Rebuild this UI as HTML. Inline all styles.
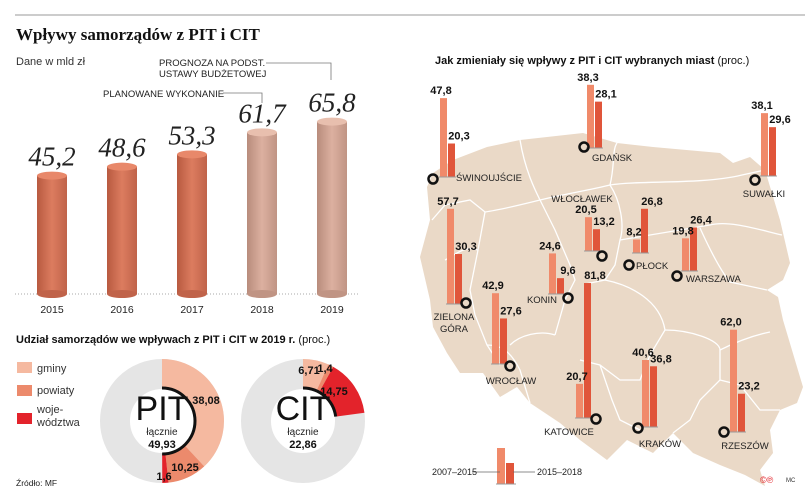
<!DOCTYPE html>
<html><head><meta charset="utf-8"><style>
html,body{margin:0;padding:0;background:#fff;}
svg{display:block;font-family:"Liberation Sans",sans-serif;}
</style></head><body>
<svg id="s" width="805" height="499" viewBox="0 0 805 499">
<defs>
<linearGradient id="gA" x1="0" x2="1" y1="0" y2="0"><stop offset="0" stop-color="#b85a40"/><stop offset="0.5" stop-color="#dc7c5f"/><stop offset="1" stop-color="#c0634a"/></linearGradient>
<linearGradient id="gB" x1="0" x2="1" y1="0" y2="0"><stop offset="0" stop-color="#b88c7c"/><stop offset="0.5" stop-color="#dcb0a0"/><stop offset="1" stop-color="#c09484"/></linearGradient>
</defs>
<line x1="15" y1="15" x2="805" y2="15" stroke="#999" stroke-width="1"/>
<text x="16" y="40" font-family="Liberation Serif,serif" font-weight="bold" font-size="17" fill="#111">Wpływy samorządów z PIT i CIT</text>
<text x="16" y="65" font-size="11" fill="#333">Dane w mld zł</text>
<g>
<text x="159" y="66" font-size="9.5" fill="#222">PROGNOZA NA PODST.</text>
<text x="159" y="77" font-size="9.5" fill="#222">USTAWY BUDŻETOWEJ</text>
<polyline points="266,63 331,63 331,80" fill="none" stroke="#777" stroke-width="0.8"/>
<text x="103" y="97" font-size="9.5" fill="#222">PLANOWANE WYKONANIE</text>
<polyline points="223,93 262,93 262,103" fill="none" stroke="#777" stroke-width="0.8"/>
</g>
<line x1="15" y1="294" x2="360" y2="294" stroke="#aaa" stroke-dasharray="1,2"/>
<g id="cyl"></g>

<text x="16" y="343" font-size="11" font-weight="bold" fill="#111">Udział samorządów we wpływach z PIT i CIT w 2019 r. <tspan font-weight="normal">(proc.)</tspan></text>
<g>
<rect x="17" y="362" width="15" height="11" fill="#f5b9a0"/><text x="37" y="372" font-size="11" fill="#333">gminy</text>
<rect x="17" y="385" width="15" height="11" fill="#ec8a6c"/><text x="37" y="394" font-size="11" fill="#333">powiaty</text>
<rect x="17" y="413" width="15" height="11" fill="#e3232b"/><text x="37" y="413" font-size="11" fill="#333">woje-</text><text x="37" y="426" font-size="11" fill="#333">wództwa</text>
</g>
<g id="donuts"></g>
<text x="16" y="486" font-size="8.5" fill="#222">Źródło: MF</text>

<path fill="#ead9c7" d="M520,140 L583,133 L617,143 L653,147 L720,153 L733,163 L750,157 L765,170 L780,220 L790,263 L783,280 L767,290 L778,297 L783,320 L803,387 L797,403 L780,410 L770,430 L773,453 L760,470 L765,486 L745,475 L720,465 L693,453 L673,433 L653,453 L627,440 L607,460 L580,440 L560,423 L530,403 L517,387 L500,397 L483,373 L460,373 L447,353 L433,327 L430,300 L420,257 L430,220 L427,187 L433,173 L453,160 L487,147 Z"/>
<g fill="none" stroke="#fff" stroke-width="1.3">
<path d="M520,140 C525,170 535,190 540,200 M540,200 C520,205 500,210 485,212 L470,200 L445,205 L432,220"/>
<path d="M540,200 C560,195 590,190 610,185 C615,165 612,150 617,143"/>
<path d="M610,185 C640,180 700,185 742,175 L765,170"/>
<path d="M485,212 L478,250 L470,290 L475,315 L487,345 L500,365"/>
<path d="M445,260 C455,255 465,245 478,250"/>
<path d="M540,200 L555,230 L570,265 L575,280 L565,300 L555,335"/>
<path d="M610,185 C620,200 625,225 620,240 L615,265 L605,280 L585,284"/>
<path d="M620,240 C650,235 680,230 710,225 C730,220 760,230 782,235"/>
<path d="M700,228 C710,250 720,270 730,282 L767,290"/>
<path d="M605,280 C630,285 660,300 665,330 L650,355 L640,380 L620,380 L600,365 L580,360"/>
<path d="M665,330 C690,330 720,340 720,350 L720,380 L700,400 L690,420 L673,433"/>
<path d="M720,350 C740,340 755,335 770,332"/>
<path d="M720,380 L740,385 L760,410 L780,410"/>
<path d="M487,345 C500,345 510,350 520,370 L530,403"/>
<path d="M555,335 C540,330 520,335 510,345"/>
<path d="M600,365 L612,400 L620,420 L640,430"/>
</g>
<text x="435" y="64" font-size="11" font-weight="bold" fill="#111">Jak zmieniały się wpływy z PIT i CIT wybranych miast <tspan font-weight="normal">(proc.)</tspan></text>
<g id="cities"></g>
<g>
<rect x="497" y="448" width="8" height="36" fill="#f08a6a"/>
<rect x="506" y="463" width="8" height="21" fill="#e0553a"/>
<line x1="496" y1="484" x2="516" y2="484" stroke="#999"/>
<line x1="472" y1="472" x2="500" y2="472" stroke="#666" stroke-width="0.8"/>
<line x1="513" y1="472" x2="535" y2="472" stroke="#666" stroke-width="0.8"/>
<text x="432" y="475" font-size="9" fill="#222">2007–2015</text>
<text x="537" y="475" font-size="9" fill="#222">2015–2018</text>
</g>
<text x="760" y="483" font-size="9" fill="#e3232b">©℗</text>
<text x="786" y="482" font-size="6" fill="#333">MC</text>
</svg>
<script>
const years=["2015","2016","2017","2018","2019"];
const totals=[45.2,48.6,53.3,61.7,65.8];
const totalLabels=["45,2","48,6","53,3","61,7","65,8"];
const forecast=[false,false,false,true,true];

const pitValues=[38.08,10.25,1.6];
const pitLabels=["38,08","10,25","1,6"];
const citValues=[6.71,1.4,14.75];
const citLabels=["6,71","1,4","14,75"];
const shareColors=["#f5b9a0","#ec8a6c","#e3232b"];

const cityNames=["ŚWINOUJŚCIE","GDAŃSK","SUWAŁKI","ZIELONA GÓRA","WROCŁAW","KONIN","WŁOCŁAWEK","PŁOCK","WARSZAWA","KATOWICE","KRAKÓW","RZESZÓW"];
const change0715=[47.8,38.3,38.1,57.7,42.9,24.6,20.5,8.2,19.8,20.7,40.6,62.0];
const change1518=[20.3,28.1,29.6,30.3,27.6,9.6,13.2,26.8,26.4,81.8,36.8,23.2];

const NS="http://www.w3.org/2000/svg";
function mk(t,a,p){const e=document.createElementNS(NS,t);for(const k in a)e.setAttribute(k,a[k]);p.appendChild(e);return e;}
function fmt(v){return v.toFixed(1).replace(".",",");}

const cg=document.getElementById("cyl");
const base=294, k=2.62;
function xYear(i){return 52+i*70;}
function yVal(v){return base-v*k;}
years.forEach((y,i)=>{
  const cx=xYear(i), top=yVal(totals[i]);
  const g=mk("g",{},cg);
  
  
  const fill=forecast[i]?"url(#gB)":"url(#gA)";
  mk("rect",{x:cx-15,y:top,width:30,height:base-top},g).setAttribute("fill",fill);
  mk("ellipse",{cx:cx,cy:base,rx:15,ry:4,fill:forecast[i]?"#c09484":"#c0634a"},g);
  mk("ellipse",{cx:cx,cy:top,rx:15,ry:4,fill:forecast[i]?"#e8bfae":"#e8886a"},g);
  const t=mk("text",{x:cx,y:top-10,"text-anchor":"middle","font-family":"Liberation Serif,serif","font-style":"italic","font-size":"27",fill:"#222"},g);
  t.textContent=totalLabels[i];
  const yl=mk("text",{x:cx,y:313,"text-anchor":"middle","font-size":"10.5",fill:"#222"},cg);
  yl.textContent=y;
  
  
});

const dg=document.getElementById("donuts");
function arc(cx,cy,r0,r1,a0,a1){
  const p=(r,a)=>[cx+r*Math.sin(a),cy-r*Math.cos(a)];
  const l=(a1-a0)>Math.PI?1:0;
  const [x0,y0]=p(r1,a0),[x1,y1]=p(r1,a1),[x2,y2]=p(r0,a1),[x3,y3]=p(r0,a0);
  return `M${x0},${y0}A${r1},${r1} 0 ${l} 1 ${x1},${y1}L${x2},${y2}A${r0},${r0} 0 ${l} 0 ${x3},${y3}Z`;
}
function donut(cx,cy,vals,labels,name,total,labelPos){
  const g=mk("g",{},dg);
  
  
  mk("circle",{cx:cx,cy:cy,r:47,fill:"none",stroke:"#e5e5e5","stroke-width":30},g);
  let a=0;let sum=0;
  vals.forEach((v,i)=>{
    const a1=a+v*Math.PI*2/100;
    const s=mk("path",{d:arc(cx,cy,33,62,a,a1),fill:shareColors[i]},g);
    
    
    a=a1;sum+=v;
  });
  const r=33, ae=sum*Math.PI*2/100;
  const l=ae>Math.PI?1:0;
  mk("path",{d:`M${cx},${cy-r}A${r},${r} 0 ${l} 1 ${cx+r*Math.sin(ae)},${cy-r*Math.cos(ae)}`,fill:"none",stroke:"#111","stroke-width":3},g);
  const t=mk("text",{x:cx,y:cy-1,"text-anchor":"middle","font-size":"34",fill:"#111"},g);t.textContent=name;
  const t2=mk("text",{x:cx,y:cy+14,"text-anchor":"middle","font-size":"10",fill:"#222"},g);t2.textContent="łącznie";
  const t3=mk("text",{x:cx,y:cy+27,"text-anchor":"middle","font-size":"11","font-weight":"bold",fill:"#111"},g);t3.textContent=total;
  labels.forEach((lb,i)=>{
    const tt=mk("text",{x:labelPos[i][0],y:labelPos[i][1],"text-anchor":"middle","font-size":"11","font-weight":"bold",fill:"#111"},g);
    tt.textContent=lb;
  });
}
donut(162,421,pitValues,pitLabels,"PIT","49,93",[[206,404],[185,471],[164,480]]);
donut(303,421,citValues,citLabels,"CIT","22,86",[[309,374],[325,372],[334,395]]);

const cityX=[440,587,761,447,492,549,585,633,682,576,642,730];
const cityBase=[177,148,176,304,364,294,251,253,271,418,427,432];
const circ=[[433,179],[584,147],[755,180],[466,303],[510,366],[568,298],[602,256],[629,265],[677,276],[596,419],[638,428],[724,432]];
const nameXY=[[456,181,"start"],[592,161,"start"],[764,197,"middle"],[454,320,"middle"],[511,384,"middle"],[542,303,"middle"],[582,202,"middle"],[636,269,"start"],[686,282,"start"],[569,435,"middle"],[660,447,"middle"],[745,449,"middle"]];
const sc=1.65;
const cgp=document.getElementById("cities");
cityNames.forEach((n,i)=>{
  const g=mk("g",{},cgp);
  
  
  const x=cityX[i], b=cityBase[i];
  const h1=change0715[i]*sc, h2=change1518[i]*sc;
  mk("rect",{x:x,y:b-h1,width:7,height:h1,fill:"#f08a6a"},g);
  mk("rect",{x:x+8,y:b-h2,width:7,height:h2,fill:"#e0553a"},g);
  mk("line",{x1:x-1,y1:b,x2:x+16,y2:b,stroke:"#999"},g);
  const l1=mk("text",{x:x+1,y:b-h1-4,"text-anchor":"middle","font-size":"11","font-weight":"bold",fill:"#111"},g);l1.textContent=fmt(change0715[i]);
  const l2=mk("text",{x:x+19,y:b-h2-4,"text-anchor":"middle","font-size":"11","font-weight":"bold",fill:"#111"},g);l2.textContent=fmt(change1518[i]);
  mk("circle",{cx:circ[i][0],cy:circ[i][1],r:4.5,fill:"none",stroke:"#111","stroke-width":2.5},g);
  const parts=n==="ZIELONA GÓRA"?["ZIELONA","GÓRA"]:[n];
  parts.forEach((p,j)=>{
    const t=mk("text",{x:nameXY[i][0],y:nameXY[i][1]+j*12,"text-anchor":nameXY[i][2],"font-size":"9.5",fill:"#222"},g);
    t.textContent=p;
  });
});
</script>
</body></html>
